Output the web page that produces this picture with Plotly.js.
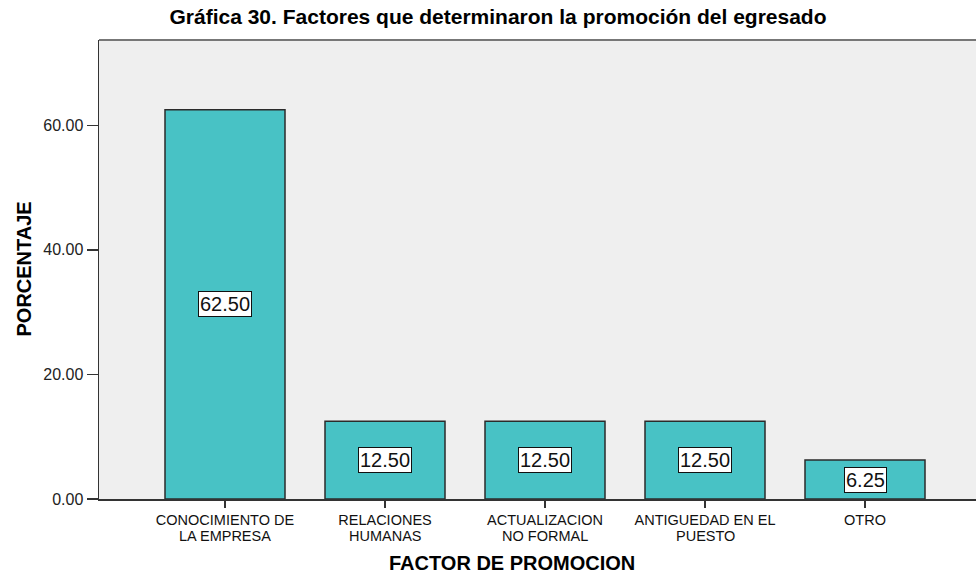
<!DOCTYPE html>
<html>
<head>
<meta charset="utf-8">
<script src="https://cdn.plot.ly/plotly-3.0.1.min.js"></script>
<style>html,body{margin:0;padding:0;overflow:hidden;background:#fff;}#chart{width:976px;height:573px;}</style>
</head>
<body>
<div id="chart"></div>
<script>
const labelsLine1 = ["CONOCIMIENTO DE", "RELACIONES", "ACTUALIZACION", "ANTIGUEDAD EN EL", "OTRO"];
const labelsLine2 = ["LA EMPRESA", "HUMANAS", "NO FORMAL", "PUESTO", ""];
const values = [62.50, 12.50, 12.50, 12.50, 6.25];
const valueLabels = ["62.50", "12.50", "12.50", "12.50", "6.25"];
const yTickVals = [0, 20, 40, 60];
const yTickText = ["0.00", "20.00", "40.00", "60.00"];

const FONT = "Liberation Sans, Arial, sans-serif";
const xIdx = values.map((v, i) => i);

const trace = {
  type: "bar",
  x: xIdx,
  y: values,
  width: 0.75,
  marker: {color: "#48C2C5", line: {color: "#2b2b2b", width: 1.5}},
  hoverinfo: "none"
};

const annotations = values.map((v, i) => ({
  x: i, y: v / 2, xref: "x", yref: "y",
  text: valueLabels[i], showarrow: false,
  font: {family: FONT, size: 20, color: "#111"},
  bgcolor: "#ffffff", bordercolor: "#111", borderwidth: 1, borderpad: 1
}));

labelsLine2.forEach((t, i) => {
  if (!t) return;
  annotations.push({
    x: i, xref: "x", yref: "paper", y: -(536 - 499) / 459,
    text: t, showarrow: false, xanchor: "center", yanchor: "middle",
    font: {family: FONT, size: 14.5, color: "#111"}
  });
});

annotations.push({
  text: "FACTOR DE PROMOCION", xref: "paper", yref: "paper",
  x: (512 - 99) / 877, y: -(563 - 499) / 459, xanchor: "center", yanchor: "middle",
  showarrow: false, font: {family: FONT, size: 20, color: "#000", weight: "bold"}
});
annotations.push({
  text: "PORCENTAJE", xref: "paper", yref: "paper",
  x: (23 - 99) / 877, y: 0.5, xanchor: "center", yanchor: "middle", textangle: -90,
  showarrow: false, font: {family: FONT, size: 20, color: "#000", weight: "bold"}
});

const layout = {
  width: 976, height: 573,
  margin: {l: 99, r: 0, t: 40, b: 74},
  paper_bgcolor: "#ffffff",
  plot_bgcolor: "#EFEFEF",
  title: {
    text: "<b>Gráfica 30. Factores que determinaron la promoción del egresado</b>",
    x: 498 / 976, xanchor: "center", y: 1 - 17 / 573, yanchor: "middle",
    font: {family: FONT, size: 21, color: "#000"}
  },
  showlegend: false,
  xaxis: {
    range: [-0.7875, (976 - 99) / 160 - 0.7875],
    tickmode: "array", tickvals: xIdx, ticktext: labelsLine1,
    showgrid: false, zeroline: false,
    showline: true, linecolor: "#333", linewidth: 1.5,
    ticks: "outside", ticklen: 7, tickwidth: 1.5, tickcolor: "#333",
    tickfont: {family: FONT, size: 14.5, color: "#111"},
    fixedrange: true
  },
  yaxis: {
    range: [0, 73.7],
    tickmode: "array", tickvals: yTickVals, ticktext: yTickText,
    showgrid: false, zeroline: false,
    showline: true, linecolor: "#333", linewidth: 1.5,
    ticks: "outside", ticklen: 11, tickwidth: 1.5, tickcolor: "#333",
    tickfont: {family: FONT, size: 16, color: "#222"},
    fixedrange: true
  },
  shapes: [{
    type: "line", xref: "paper", yref: "paper", x0: 0, x1: 1, y0: 1, y1: 1,
    line: {color: "#777", width: 2}
  }],
  annotations: annotations
};

Plotly.newPlot("chart", [trace], layout, {staticPlot: true, displayModeBar: false});
</script>
</body>
</html>
